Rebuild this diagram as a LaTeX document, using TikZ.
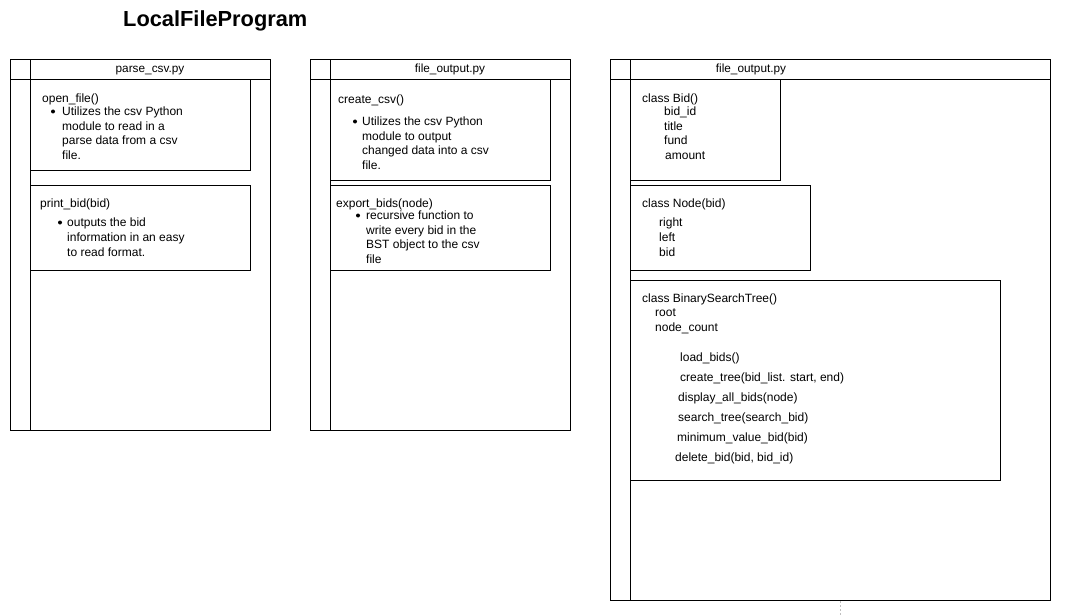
\documentclass[tikz,border=0pt]{standalone}
\usepackage{fontspec}
\setmainfont{Liberation Sans}
\begin{document}
\begin{tikzpicture}[x=1pt,y=-1pt,
  box/.style={draw=black,line width=1pt},
  txt/.style={anchor=base west,inner sep=0pt,font=\fontsize{12}{14.5}\selectfont},
  hdr/.style={anchor=base,inner sep=0pt,font=\fontsize{11.8}{14}\selectfont},
  dot/.style={fill=black,circle,inner sep=0pt,minimum size=4pt}]
\useasboundingbox (0,0) rectangle (1067,615);
% title
\node[anchor=base west,inner sep=0pt,font=\fontsize{21.8}{24}\selectfont\bfseries] (title) at (123,26.5) {LocalFileProgram};

% ===== panel 1 =====
\draw[box] (10,60) rectangle (270,430);
\draw[box] (10,80) -- (270,80);
\draw[box] (30,60) -- (30,430);
\node[hdr] (h1) at (150,73) {parse\_csv.py};
\draw[box] (30,80) rectangle (250,170);
\draw[box] (30,185) rectangle (250,270);
\node[txt] (of) at (42,102.5) {open\_file()};
\node[dot] (d1) at (53,111.5) {};
\node[txt] (of1) at (62,115.5) {Utilizes the csv Python};
\node[txt] (of2) at (62,130) {module to read in a};
\node[txt] (of3) at (62,144.5) {parse data from a csv};
\node[txt] (of4) at (62,159) {file.};
\node[txt] (pb) at (40,207.5) {print\_bid(bid)};
\node[dot] (d2) at (60,222.5) {};
\node[txt] (pb1) at (67,226.5) {outputs the bid};
\node[txt] (pb2) at (67,241.5) {information in an easy};
\node[txt] (pb3) at (67,256) {to read format.};

% ===== panel 2 =====
\draw[box] (310,60) rectangle (570,430);
\draw[box] (310,80) -- (570,80);
\draw[box] (330,60) -- (330,430);
\node[hdr] (h2) at (450,73) {file\_output.py};
\draw[box] (330,80) rectangle (550,180);
\draw[box] (330,185) rectangle (550,270);
\node[txt] (cc) at (338,103) {create\_csv()};
\node[dot] (d3) at (355,121.5) {};
\node[txt] (cc1) at (362,125.5) {Utilizes the csv Python};
\node[txt] (cc2) at (362,140) {module to output};
\node[txt] (cc3) at (362,154.5) {changed data into a csv};
\node[txt] (cc4) at (362,169) {file.};
\node[txt] (eb) at (336,207.5) {export\_bids(node)};
\node[dot] (d4) at (358,215.5) {};
\node[txt] (eb1) at (366,219.5) {recursive function to};
\node[txt] (eb2) at (366,234) {write every bid in the};
\node[txt] (eb3) at (366,248.5) {BST object to the csv};
\node[txt] (eb4) at (366,263) {file};

% ===== panel 3 =====
\draw[box] (610,60) rectangle (1050,600);
\draw[box] (610,80) -- (1050,80);
\draw[box] (630,60) -- (630,600);
\node[hdr] (h3) at (751,73) {file\_output.py};
\draw[box] (630,80) rectangle (780,180);
\draw[box] (630,185) rectangle (810,270);
\draw[box] (630,280) rectangle (1000,480);
\node[txt] (cb) at (642,102.5) {class Bid()};
\node[txt] (cb1) at (664,115.5) {bid\_id};
\node[txt] (cb2) at (664,130) {title};
\node[txt] (cb3) at (664,144.5) {fund};
\node[txt] (cb4) at (665,159) {amount};
\node[txt] (cn) at (642,207.5) {class Node(bid)};
\node[txt] (cn1) at (659,226.5) {right};
\node[txt] (cn2) at (659,241.5) {left};
\node[txt] (cn3) at (659,256) {bid};
\node[txt] (bst) at (642,302.5) {class BinarySearchTree()};
\node[txt] (bst1) at (655,316) {root};
\node[txt] (bst2) at (655,331) {node\_count};
\node[txt] (m1) at (680,361) {load\_bids()};
\node[txt] (m2) at (680,381) {create\_tree(bid\_list. start, end)};
\node[txt] (m3) at (678,401) {display\_all\_bids(node)};
\node[txt] (m4) at (678,421) {search\_tree(search\_bid)};
\node[txt] (m5) at (677,441) {minimum\_value\_bid(bid)};
\node[txt] (m6) at (675,461) {delete\_bid(bid, bid\_id)};

% faint page-break mark
\coordinate (pbA) at (840,601);
\coordinate (pbB) at (840,615);
\draw[black!25,line width=0.6pt,dash pattern=on 2pt off 2pt] (pbA) -- (pbB);
\end{tikzpicture}
\end{document}
